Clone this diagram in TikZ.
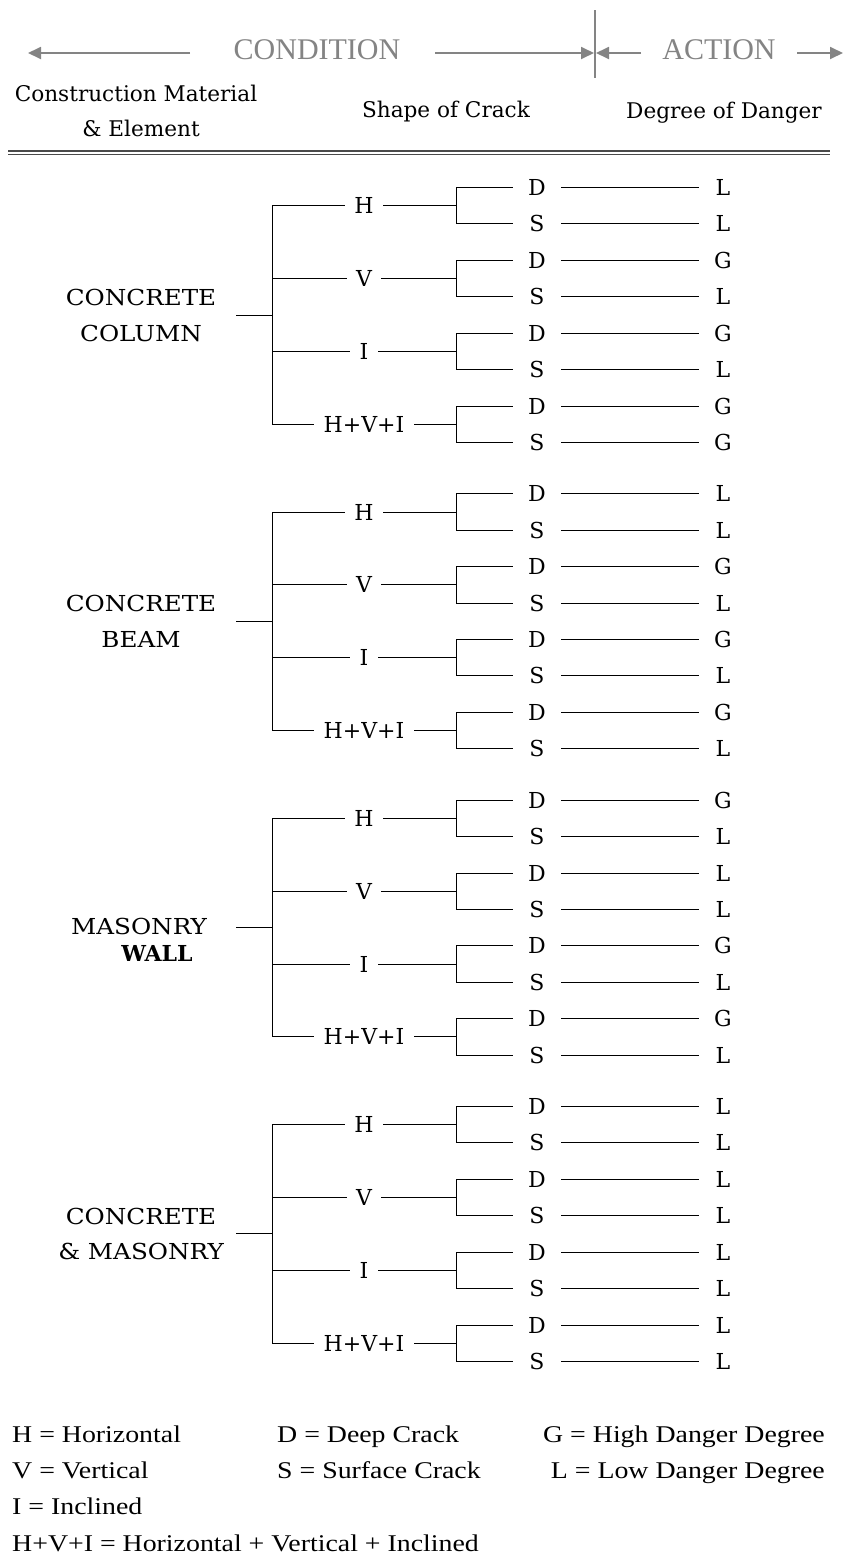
\documentclass[tikz,border=0pt]{standalone}
\usepackage{fontspec}
\usepackage{graphicx}
\setmainfont{DejaVu Serif}
\newfontfamily\tms{Liberation Serif}
\usetikzlibrary{arrows.meta}
\definecolor{hdrgray}{HTML}{848484}
\definecolor{dblgray}{HTML}{4A4A4A}
\newcommand\lgd[1]{\scalebox{1.16}[1]{\tms\fontsize{24}{24}\selectfont #1}}
\newcommand\mtx[1]{\scalebox{1.12}[1]{#1}}
\begin{document}
\begin{tikzpicture}[x=1pt,y=-1pt,
  ln/.style={line width=1.5pt,black,line cap=rect},
  harr/.style={hdrgray,line width=1.8pt,-{Triangle[length=13pt,width=12pt]}},
  hdr/.style={hdrgray,font=\tms\fontsize{30}{30}\selectfont,inner sep=0pt,anchor=base},
  colh/.style={font=\fontsize{21.6}{21.6}\selectfont,inner sep=0pt,anchor=base},
  tl/.style={font=\fontsize{22}{22}\selectfont,text height=16pt,text depth=0pt,inner ysep=0pt},
  leaf/.style={tl,inner xsep=0pt,minimum width=49pt},
  shp/.style={tl,inner xsep=10pt},
  mat/.style={tl,inner sep=0pt},
  leg/.style={inner sep=0pt,anchor=base west},
  legr/.style={inner sep=0pt,anchor=base east}]
\useasboundingbox (0,0) rectangle (844,1556);
\fill[white] (0,0) rectangle (844,1556);

% header
\node[hdr] (cond) at (317,59) {CONDITION};
\node[hdr] (act) at (719,59) {ACTION};
\coordinate (cl0) at (190,53); \coordinate (cl) at (28,53);
\coordinate (cr0) at (435,53); \coordinate (cr) at (594,53);
\coordinate (al0) at (641,53); \coordinate (al) at (596,53);
\coordinate (ar0) at (797,53); \coordinate (ar) at (843,53);
\coordinate (vt) at (595,10); \coordinate (vb) at (595,78);
\draw[harr] (cl0) -- (cl);
\draw[harr] (cr0) -- (cr);
\draw[harr] (al0) -- (al);
\draw[harr] (ar0) -- (ar);
\draw[hdrgray,line width=1.3pt] (vt) -- (vb);

\node[colh] (hmat1) at (136,101) {Construction Material};
\node[colh] (hmat2) at (141,136) {\& Element};
\node[colh] (hshape) at (446,117) {Shape of Crack};
\node[colh] (hdeg) at (724,118) {Degree of Danger};

\coordinate (dl1) at (8,150.8); \coordinate (dr1) at (830,150.8);
\coordinate (dl2) at (8,154.3); \coordinate (dr2) at (830,154.3);
\draw[dblgray,line width=1.4pt] (dl1) -- (dr1);
\draw[dblgray,line width=1.4pt] (dl2) -- (dr2);

% trees
\foreach \g/\vals in {0/{L,L,G,L,G,L,G,G},1/{L,L,G,L,G,L,G,L},2/{G,L,L,L,G,L,G,L},3/{L,L,L,L,L,L,L,L}}{
  \pgfmathsetmacro\base{187+306.33*\g}
  \foreach \v [count=\r from 0] in \vals {
    \pgfmathsetmacro\yy{round(\base+36.43*\r)+0.5}
    \node[leaf] (c\g-\r) at (537,\yy) {\ifodd\r S\else D\fi};
    \node[leaf] (d\g-\r) at (723,\yy) {\v};
    \draw[ln] (c\g-\r) -- (d\g-\r);
  }
  \foreach \s [count=\k from 0] in {H,V,I,H+V+I} {
    \pgfmathsetmacro\ys{round(\base+36.43*(2*\k+0.5))+0.5}
    \node[shp] (s\g-\k) at (364,\ys) {\s};
    \coordinate (t\g-\k) at (272.5,\ys);
    \coordinate (f\g-\k) at (456.5,\ys);
    \draw[ln] (t\g-\k) -- (s\g-\k);
    \draw[ln] (s\g-\k) -- (f\g-\k);
    \pgfmathtruncatemacro\ra{2*\k}
    \pgfmathtruncatemacro\rb{2*\k+1}
    \draw[ln] (c\g-\ra.west) -| (f\g-\k) |- (c\g-\rb.west);
  }
  \draw[ln] (t\g-0) -- (t\g-3);
  \pgfmathsetmacro\ym{round(\base+127.5)+0.5}
  \coordinate (j\g) at (272.5,\ym);
  \coordinate (m\g) at (237,\ym);
  \draw[ln] (m\g) -- (j\g);
}

% material labels
\node[mat] (mat0a) at (141,297) {\mtx{CONCRETE}};
\node[mat] (mat0b) at (141,333) {\mtx{COLUMN}};
\node[mat] (mat1a) at (141,603) {\mtx{CONCRETE}};
\node[mat] (mat1b) at (141,639) {\mtx{BEAM}};
\node[mat] (mat2a) at (139,926) {\mtx{MASONRY}};
\node[mat] (mat2b) at (157,953) {\bfseries WALL};
\node[mat] (mat3a) at (141,1216) {\mtx{CONCRETE}};
\node[mat] (mat3b) at (141,1251) {\mtx{\& MASONRY}};

% legend
\node[leg] (lg1) at (12,1442) {\lgd{H = Horizontal}};
\node[leg] (lg2) at (277,1442) {\lgd{D = Deep Crack}};
\node[legr] (lg3) at (825,1442) {\lgd{G = High Danger Degree}};
\node[leg] (lg4) at (12,1478) {\lgd{V = Vertical}};
\node[leg] (lg5) at (277,1478) {\lgd{S = Surface Crack}};
\node[legr] (lg6) at (825,1478) {\lgd{L = Low Danger Degree}};
\node[leg] (lg7) at (12,1514) {\lgd{I = Inclined}};
\node[leg] (lg8) at (12,1551) {\lgd{H+V+I = Horizontal + Vertical + Inclined}};
\end{tikzpicture}
\end{document}
